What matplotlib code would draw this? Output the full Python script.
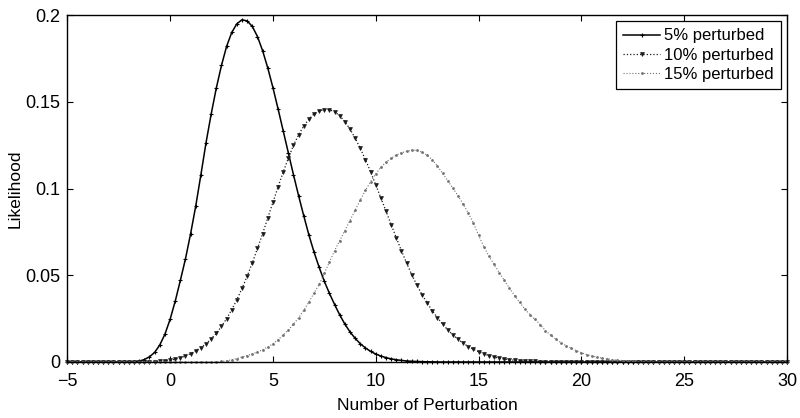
import numpy as np
import matplotlib
matplotlib.use("Agg")
import matplotlib.pyplot as plt

# -------------------------------------------
# datos (paso 0.25 en x)
# -------------------------------------------

X_MIN, X_MAX, STEP = -5.0, 30.0, 0.25

labels = ["5% perturbed", "10% perturbed", "15% perturbed"]

start_5 = -2.0
like_5 = [0.0, 0.0001, 0.0005, 0.0014, 0.0030, 0.0055, 0.0098, 0.0160, 0.0245,
          0.0350, 0.0470, 0.0595, 0.0740, 0.0900, 0.1080, 0.1265, 0.1430,
          0.1580, 0.1710, 0.1820, 0.1900, 0.1950, 0.1973, 0.1966, 0.1934,
          0.1876, 0.1794, 0.1695, 0.1582, 0.1459, 0.1332, 0.1205, 0.1079,
          0.0958, 0.0842, 0.0732, 0.0633, 0.0545, 0.0465, 0.0395, 0.0331,
          0.0271, 0.0218, 0.0173, 0.0136, 0.0105, 0.0081, 0.0061, 0.0046,
          0.0034, 0.0025, 0.0018, 0.0013, 0.0009, 0.0006, 0.0004, 0.0003,
          0.0002, 0.0001, 0.0001]

start_10 = -1.0
like_10 = [0.0001, 0.0002, 0.0003, 0.0006, 0.0010, 0.0016, 0.0024, 0.0035,
           0.0048, 0.0065, 0.0083, 0.0105, 0.0133, 0.0166, 0.0205, 0.0250,
           0.0302, 0.0360, 0.0425, 0.0495, 0.0572, 0.0655, 0.0740, 0.0830,
           0.0920, 0.1010, 0.1095, 0.1175, 0.1250, 0.1310, 0.1360, 0.1400,
           0.1430, 0.1447, 0.1455, 0.1454, 0.1442, 0.1419, 0.1385, 0.1342,
           0.1290, 0.1231, 0.1166, 0.1096, 0.1021, 0.0945, 0.0868, 0.0792,
           0.0715, 0.0641, 0.0570, 0.0504, 0.0442, 0.0388, 0.0340, 0.0295,
           0.0255, 0.0218, 0.0185, 0.0156, 0.0130, 0.0108, 0.0089, 0.0073,
           0.0059, 0.0047, 0.0037, 0.0029, 0.0022, 0.0017, 0.0013, 0.0010,
           0.0007, 0.0005, 0.0004, 0.0003, 0.0002, 0.0001, 0.0001]

start_15 = 2.25
like_15 = [0.0001, 0.0003, 0.0007, 0.0013, 0.0020, 0.0028, 0.0037, 0.0047,
           0.0058, 0.0071, 0.0086, 0.0105, 0.0128, 0.0155, 0.0185, 0.0218,
           0.0255, 0.0298, 0.0346, 0.0398, 0.0447, 0.0512, 0.0578, 0.0642,
           0.0700, 0.0757, 0.0815, 0.0875, 0.0935, 0.0990, 0.1040, 0.1085,
           0.1122, 0.1152, 0.1175, 0.1193, 0.1206, 0.1215, 0.1221, 0.1220,
           0.1210, 0.1192, 0.1165, 0.1130, 0.1088, 0.1045, 0.1002, 0.0958,
           0.0910, 0.0858, 0.0800, 0.0730, 0.0665, 0.0610, 0.0562, 0.0515,
           0.0470, 0.0425, 0.0383, 0.0343, 0.0305, 0.0273, 0.0245, 0.0215,
           0.0180, 0.0155, 0.0132, 0.0112, 0.0094, 0.0079, 0.0065, 0.0053,
           0.0043, 0.0035, 0.0028, 0.0022, 0.0018, 0.0014, 0.0011, 0.0008,
           0.0005, 0.0003, 0.0002, 0.0001]

x_ticks = [-5, 0, 5, 10, 15, 20, 25, 30]
y_ticks = [0, 0.05, 0.1, 0.15, 0.2]
y_ticklabels = ["0", "0.05", "0.1", "0.15", "0.2"]

# -------------------------------------------
# rejilla completa: fuera de la zona leida la curva esta en 0
# -------------------------------------------

x = np.arange(X_MIN, X_MAX + STEP / 2, STEP)

def pad(vals, start):
    full = np.zeros_like(x)
    i = int(round((start - X_MIN) / STEP))
    full[i:i + len(vals)] = vals
    return full

y5 = pad(like_5, start_5)
y10 = pad(like_10, start_10)
y15 = pad(like_15, start_15)

# -------------------------------------------
# grafica
# -------------------------------------------

plt.rcParams["font.family"] = ["Liberation Sans", "DejaVu Sans"]

fig = plt.figure(figsize=(8, 4.18), dpi=100)
ax = fig.add_axes([0.084, 0.134, 0.900, 0.830])

ax.plot(x, y5, "-", color="black", lw=1.1, marker="+", ms=3.5, mew=0.8,
        label=labels[0], clip_on=False)
ax.plot(x, y10, ":", color="0.1", lw=0.9, marker="v", ms=2.8, mew=0.5,
        label=labels[1], clip_on=False)
ax.plot(x, y15, ":", color="0.45", lw=0.8, marker=".", ms=2,
        label=labels[2], clip_on=False)

ax.set_xlim(X_MIN, X_MAX)
ax.set_ylim(0, 0.2)
ax.set_xticks(x_ticks)
ax.set_yticks(y_ticks)
ax.set_yticklabels(y_ticklabels)
ax.tick_params(direction="in", top=True, right=True, length=4, width=0.8,
               labelsize=13)
ax.tick_params(axis="x", pad=8)
ax.tick_params(axis="y", pad=5)
for s in ax.spines.values():
    s.set_linewidth(1.0)

ax.set_xlabel("Number of Perturbation", fontsize=12.5, labelpad=6)
ax.set_ylabel("Likelihood", fontsize=12.5, labelpad=2)

leg = ax.legend(loc="upper right", fontsize=12, handlelength=2.2,
                handletextpad=0.25, borderpad=0.45, labelspacing=0.25,
                fancybox=False, framealpha=1, borderaxespad=0.35)
leg.get_frame().set_edgecolor("black")
leg.get_frame().set_linewidth(0.9)

fig.savefig("out.png", dpi=100)
